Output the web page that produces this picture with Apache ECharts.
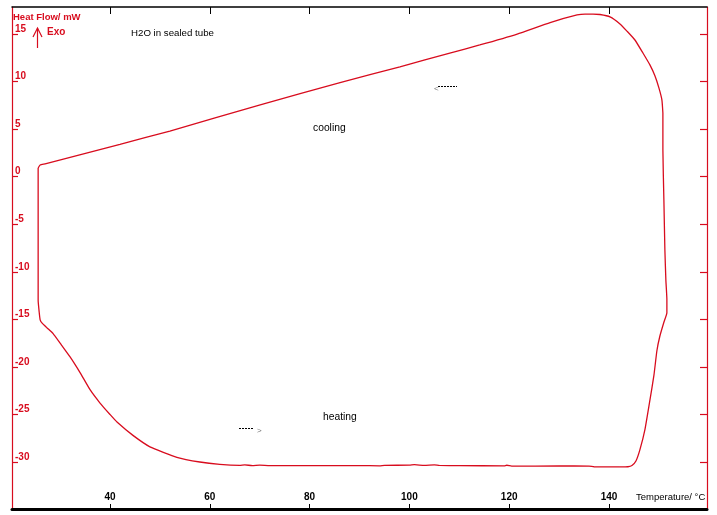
<!DOCTYPE html>
<html>
<head>
<meta charset="utf-8">
<script src="https://cdn.jsdelivr.net/npm/echarts@6/dist/echarts.min.js"></script>
<style>
html,body{margin:0;padding:0;background:#fff;}
#chart{width:717px;height:515px;}
</style>
</head>
<body>
<div id="chart"></div>
<script>
// ---- data (Temperature / °C, Heat Flow / mW) ----
var heatingTemp = [25.6, 25.6, 25.6, 25.6, 25.6, 25.8, 26.0, 26.4, 27.4, 28.6, 30.0, 32.0, 34.0, 36.0, 38.0, 40.0, 41.4, 44.6, 48.0, 53.4, 58.0, 62.0, 66.0, 67.0, 68.5, 70.0, 72.0, 80.0, 90.0, 94.0, 95.0, 100.0, 101.0, 103.0, 105.0, 106.0, 110.0, 119.0, 119.5, 120.5, 130.0, 136.0, 137.0, 142.2, 143.8, 144.6, 145.4, 146.2, 147.2, 148.2, 149.0, 149.6, 150.2, 151.0, 151.6, 151.6, 151.4, 151.2, 151.0, 150.8, 150.8];
var heatingFlow = [0.9, 0.7, -2.4, -7.7, -13.0, -14.2, -15.05, -15.4, -15.9, -16.5, -17.5, -18.95, -20.6, -22.4, -23.8, -25.0, -25.8, -27.2, -28.4, -29.5, -30.0, -30.25, -30.35, -30.3, -30.38, -30.33, -30.38, -30.38, -30.38, -30.4, -30.35, -30.33, -30.28, -30.36, -30.3, -30.36, -30.38, -30.4, -30.34, -30.44, -30.42, -30.43, -30.5, -30.52, -30.5, -30.37, -29.9, -28.7, -26.6, -23.5, -20.9, -18.3, -16.75, -15.3, -14.3, -12.9, -10.9, -7.7, -2.45, 2.8, 6.7];
var coolingTemp = [150.8, 150.6, 150.0, 149.2, 148.2, 146.8, 145.2, 143.6, 142.2, 140.2, 138.2, 136.8, 135.2, 133.6, 128.2, 121.6, 114.1, 108.1, 98.1, 86.1, 70.1, 52.0, 42.0, 27.0, 26.0, 25.6];
var coolingFlow = [6.7, 8.07, 9.33, 10.6, 11.75, 13.0, 14.37, 15.3, 16.06, 16.8, 17.05, 17.1, 17.1, 17.0, 16.2, 15.0, 13.85, 13.0, 11.55, 9.9, 7.55, 4.8, 3.4, 1.34, 1.23, 0.91];
var tempTicks = [40, 60, 80, 100, 120, 140];
var flowTicks = [-30, -25, -20, -15, -10, -5, 0, 5, 10, 15];
var tempRange = [20.36, 159.64];
var flowRange = [-34.94, 17.84];

function pairs(xs, ys) { return xs.map(function (x, i) { return [x, ys[i]]; }); }

var RED = '#d80c1e';
var chart = echarts.init(document.getElementById('chart'));
var font = "'Liberation Sans',Arial,sans-serif";

chart.setOption({
  animation: false,
  backgroundColor: '#fff',
  grid: { left: 12, right: 10, top: 7, bottom: 6, containLabel: false },
  xAxis: [
    {
      type: 'value', position: 'bottom', min: tempRange[0], max: tempRange[1],
      axisLine: { show: true, onZero: false, lineStyle: { color: '#000', width: 3 } },
      axisTick: { show: true, inside: true, length: 5, customValues: tempTicks, lineStyle: { color: '#000', width: 1 } },
      axisLabel: { show: true, inside: true, margin: 7, customValues: tempTicks, color: '#000', fontFamily: font, fontWeight: 'bold', fontSize: 10 },
      splitLine: { show: false }
    },
    {
      type: 'value', position: 'top', min: tempRange[0], max: tempRange[1],
      axisLine: { show: true, onZero: false, lineStyle: { color: '#000', width: 1.5 } },
      axisTick: { show: true, inside: true, length: 7, customValues: tempTicks, lineStyle: { color: '#000', width: 1 } },
      axisLabel: { show: false },
      splitLine: { show: false }
    }
  ],
  yAxis: [
    {
      type: 'value', position: 'left', min: flowRange[0], max: flowRange[1],
      axisLine: { show: true, onZero: false, lineStyle: { color: RED, width: 1.2 } },
      axisTick: { show: true, inside: true, length: 6, customValues: flowTicks, lineStyle: { color: RED, width: 1.2 } },
      axisLabel: { show: true, inside: true, margin: 3, customValues: flowTicks, color: RED, fontFamily: font, fontWeight: 'bold', fontSize: 10, verticalAlign: 'bottom' },
      splitLine: { show: false }
    },
    {
      type: 'value', position: 'right', min: flowRange[0], max: flowRange[1],
      axisLine: { show: true, onZero: false, lineStyle: { color: RED, width: 1.2 } },
      axisTick: { show: true, inside: true, length: 7, customValues: flowTicks, lineStyle: { color: RED, width: 1.2 } },
      axisLabel: { show: false },
      splitLine: { show: false }
    }
  ],
  series: [
    {
      name: 'heating', type: 'line', xAxisIndex: 0, yAxisIndex: 0,
      data: pairs(heatingTemp, heatingFlow), showSymbol: false, smooth: 0.15,
      lineStyle: { color: RED, width: 1.3 }
    },
    {
      name: 'cooling', type: 'line', xAxisIndex: 0, yAxisIndex: 0,
      data: pairs(coolingTemp, coolingFlow), showSymbol: false, smooth: 0.15,
      lineStyle: { color: RED, width: 1.3 }
    }
  ],
  graphic: [
    { type: 'text', left: 13, top: 12, style: { text: 'Heat Flow/ mW', fill: RED, font: 'bold 9.5px ' + font } },
    { type: 'text', left: 47, top: 27, style: { text: 'Exo', fill: RED, font: 'bold 10px ' + font } },
    { type: 'polyline', shape: { points: [[37.5, 48], [37.5, 28]] }, style: { stroke: RED, lineWidth: 1.2, fill: null } },
    { type: 'polyline', shape: { points: [[33, 37], [37.5, 28], [42, 37]] }, style: { stroke: RED, lineWidth: 1.2, fill: null } },
    { type: 'text', left: 131, top: 28, style: { text: 'H2O in sealed tube', fill: '#000', font: '9.7px ' + font } },
    { type: 'text', left: 313, top: 123, style: { text: 'cooling', fill: '#000', font: '10.3px ' + font } },
    { type: 'text', left: 323, top: 412, style: { text: 'heating', fill: '#000', font: '10.3px ' + font } },
    { type: 'line', shape: { x1: 438, y1: 86.5, x2: 457, y2: 86.5 }, style: { stroke: '#000', lineWidth: 1, lineDash: [2, 1] } },
    { type: 'text', x: 434, y: 85, style: { text: '<', fill: '#777', font: '8px ' + font } },
    { type: 'line', shape: { x1: 239, y1: 428.5, x2: 254, y2: 428.5 }, style: { stroke: '#000', lineWidth: 1, lineDash: [2, 1] } },
    { type: 'text', x: 257, y: 427, style: { text: '>', fill: '#777', font: '8px ' + font } },
    { type: 'text', left: 636, top: 492, style: { text: 'Temperature/ °C', fill: '#000', font: '9.5px ' + font } }
  ]
});
</script>
</body>
</html>
